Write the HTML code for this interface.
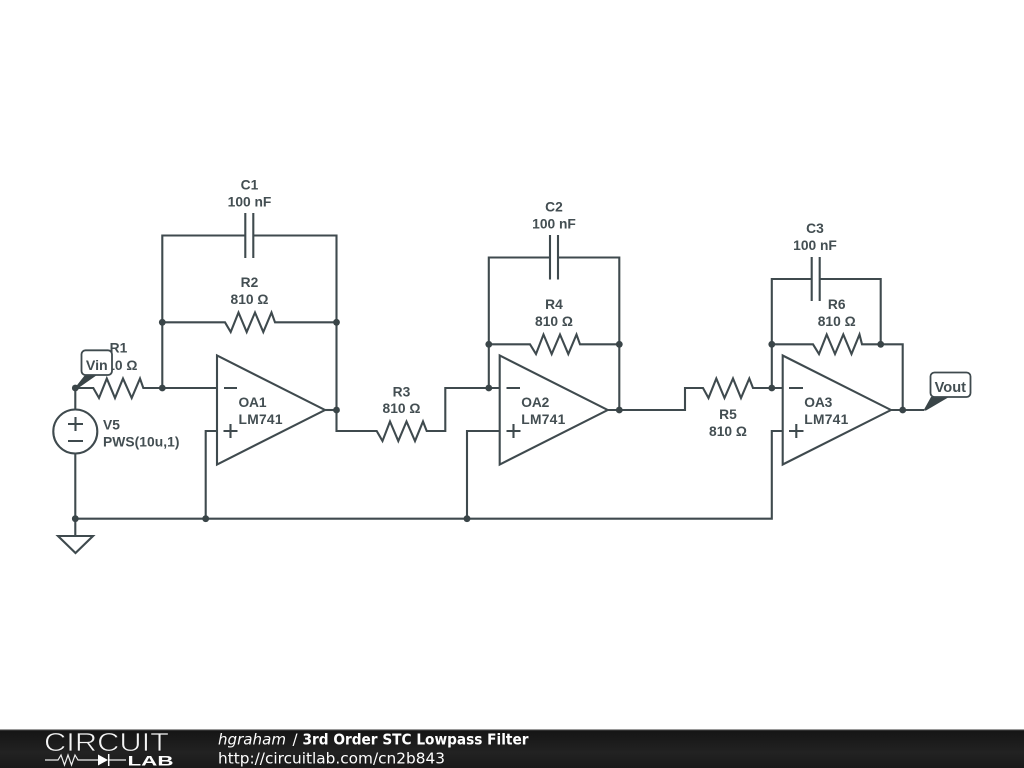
<!DOCTYPE html>
<html><head><meta charset="utf-8"><style>
html,body{margin:0;padding:0;background:#fff}
svg{display:block}
.w{fill:none;stroke:#3f4a4e;stroke-width:2.1;stroke-linejoin:miter}
.t{font-family:"Liberation Sans",sans-serif;font-weight:700;font-size:13.8px;fill:#434e52}
.m{text-anchor:middle}
.f{font-family:"DejaVu Sans",sans-serif;font-size:15px;fill:#fff}
</style></head><body>
<svg width="1024" height="768" viewBox="0 0 1024 768" xmlns="http://www.w3.org/2000/svg">
<defs><linearGradient id="g" x1="0" y1="0" x2="0" y2="1"><stop offset="0" stop-color="#141414"/><stop offset="0.6" stop-color="#222"/><stop offset="1" stop-color="#1a1a1a"/></linearGradient></defs>
<rect width="1024" height="768" fill="#fff"/>
<g class="w">
<!-- OA1 -->
<path d="M217 355.5V464.5L325 410Z"/>
<path d="M75.3 388H93.3L99 398L106.8 378.5L115 398L123 378.5L131.7 398L140 378.5L143.3 388H217"/>
<path d="M162.3 388V235.5H245.3M253.3 235.5H336.5V431H376.7L382.5 441L390 421.5L398.3 441L406.5 421.5L415 441L423 421.5L426.7 431H445.3V388H499.7"/>
<path d="M245.3 213V258M253.3 213V258"/>
<path d="M162.3 322.3H225L230.7 332L238.5 312.5L246.7 332L255 312.5L263.3 332L271.5 312.5L275 322.3H336.5"/>
<path d="M325 410H336.5"/>
<path d="M217 431H205.7V518.7"/>
<path d="M224 388H237M223.5 431H237.5M230.5 424V438"/>
<!-- source -->
<path d="M75.3 388V409.5M75.3 453.5V536"/>
<circle cx="75.3" cy="431.5" r="22"/>
<path d="M68 424H83M75.5 417V431M68 441H83"/>
<path d="M75.3 518.7H771.8V431H782.7"/>
<path d="M58 536H93L75.5 553Z"/>
<!-- OA2 -->
<path d="M499.7 355.5V464.5L607.7 410Z"/>
<path d="M488.8 388V257.5H550M558 257.5H619.3V410"/>
<path d="M550 235V279.5M558 235V279.5"/>
<path d="M488.8 344.3H530L536 354L543.5 334.5L551.7 354L560 334.5L568.3 354L576.5 334.5L580 344.3H619.3"/>
<path d="M499.7 431H467V518.7"/>
<path d="M506.5 388H520M506.5 431H520.5M513.5 424V438"/>
<path d="M607.7 410H685V388H703L708.5 398L716.3 378.5L724.5 398L733 378.5L741 398L749.3 378.5L753 388H782.7"/>
<!-- OA3 -->
<path d="M782.7 355.5V464.5L891 410Z"/>
<path d="M771.8 388V279H811.7M819.7 279H880.7V344.3"/>
<path d="M811.7 257V301M819.7 257V301"/>
<path d="M771.8 344.3H813L819 354L826.7 334.5L835 354L843.3 334.5L851.5 354L859.5 334.5L862 344.3H902.7V410"/>
<path d="M789 388H803M789 431H803.5M796.3 424V438"/>
<path d="M891 410H924"/>
</g>
<g fill="#3a4548">
<circle cx="75.3" cy="388" r="3.4"/><circle cx="162.3" cy="388" r="3.4"/><circle cx="162.3" cy="322.3" r="3.4"/><circle cx="336.5" cy="322.3" r="3.4"/><circle cx="336.5" cy="410" r="3.4"/>
<circle cx="75.3" cy="518.7" r="3.4"/><circle cx="205.7" cy="518.7" r="3.4"/><circle cx="467" cy="518.7" r="3.4"/>
<circle cx="488.8" cy="388" r="3.4"/><circle cx="488.8" cy="344.3" r="3.4"/><circle cx="619.3" cy="344.3" r="3.4"/><circle cx="619.3" cy="410" r="3.4"/>
<circle cx="771.8" cy="388" r="3.4"/><circle cx="771.8" cy="344.3" r="3.4"/><circle cx="880.7" cy="344.3" r="3.4"/><circle cx="902.7" cy="410" r="3.4"/>
<path d="M74 389L85 375H97L77 389Z"/>
<path d="M923.5 410.5L931 397H949L926 410.5Z"/>
</g>
<text class="t m" x="249.5" y="189.5">C1</text><text class="t m" x="249.5" y="206.5">100 nF</text>
<text class="t m" x="249.5" y="287">R2</text><text class="t m" x="249.5" y="304">810 Ω</text>
<text class="t m" x="118.5" y="352.5">R1</text><text class="t m" x="118.5" y="369.8">810 Ω</text>
<text class="t m" x="401.5" y="396.5">R3</text><text class="t m" x="401.5" y="413">810 Ω</text>
<text class="t m" x="554" y="211.5">C2</text><text class="t m" x="554" y="228.3">100 nF</text>
<text class="t m" x="554" y="309">R4</text><text class="t m" x="554" y="326">810 Ω</text>
<text class="t m" x="728" y="419">R5</text><text class="t m" x="728" y="436">810 Ω</text>
<text class="t m" x="815" y="233">C3</text><text class="t m" x="815" y="250">100 nF</text>
<text class="t m" x="836.7" y="309">R6</text><text class="t m" x="836.7" y="326">810 Ω</text>
<text class="t" x="238.5" y="407" textLength="28">OA1</text><text class="t" x="238.5" y="424" textLength="44">LM741</text>
<text class="t" x="521.3" y="407" textLength="28">OA2</text><text class="t" x="521.3" y="424" textLength="44">LM741</text>
<text class="t" x="804.3" y="407" textLength="28">OA3</text><text class="t" x="804.3" y="424" textLength="44">LM741</text>
<text class="t" x="103" y="429.3">V5</text><text class="t" x="103" y="446.3" textLength="76.5">PWS(10u,1)</text>
<rect x="81.5" y="350.3" width="30.5" height="24.7" rx="4" fill="#fff" stroke="#3f4a4e" stroke-width="1.8"/>
<text class="t m" x="96.8" y="370" style="font-size:14.2px">Vin</text>
<rect x="930.5" y="372.5" width="40" height="24.5" rx="4" fill="#fff" stroke="#3f4a4e" stroke-width="1.8"/>
<text class="t m" x="950.3" y="392" style="font-size:14.6px">Vout</text>
<!-- footer -->
<rect x="0" y="729" width="1024" height="39" fill="url(#g)"/>
<rect x="0" y="729" width="1024" height="1.2" fill="#9a9a9a"/>
<text x="44" y="751" font-family="Liberation Sans, sans-serif" font-size="26" fill="#f4f4f4" stroke="#1a1a1a" stroke-width="0.7" textLength="125" lengthAdjust="spacingAndGlyphs">CIRCUIT</text>
<path d="M45 760H58L61 755L64.5 765L68 755L71.5 765L75 755L78 760H99M109 760H126" fill="none" stroke="#eee" stroke-width="1.2"/>
<path d="M98 754.5V765.5L108 760Z" fill="#fff"/><path d="M108.7 754V766" stroke="#fff" stroke-width="1.5"/>
<text x="127.5" y="765.5" font-family="Liberation Sans, sans-serif" font-weight="700" font-size="14" fill="#fff" textLength="46" lengthAdjust="spacingAndGlyphs">LAB</text>
<text class="f" x="218" y="744.7" font-style="italic" textLength="68" lengthAdjust="spacingAndGlyphs">hgraham</text>
<text class="f" x="292.5" y="744.7">/</text>
<text class="f" x="302.5" y="744.7" font-weight="700" textLength="226" lengthAdjust="spacingAndGlyphs">3rd Order STC Lowpass Filter</text>
<text class="f" x="218" y="763.5" textLength="227" lengthAdjust="spacingAndGlyphs">http://circuitlab.com/cn2b843</text>
</svg>
</body></html>
